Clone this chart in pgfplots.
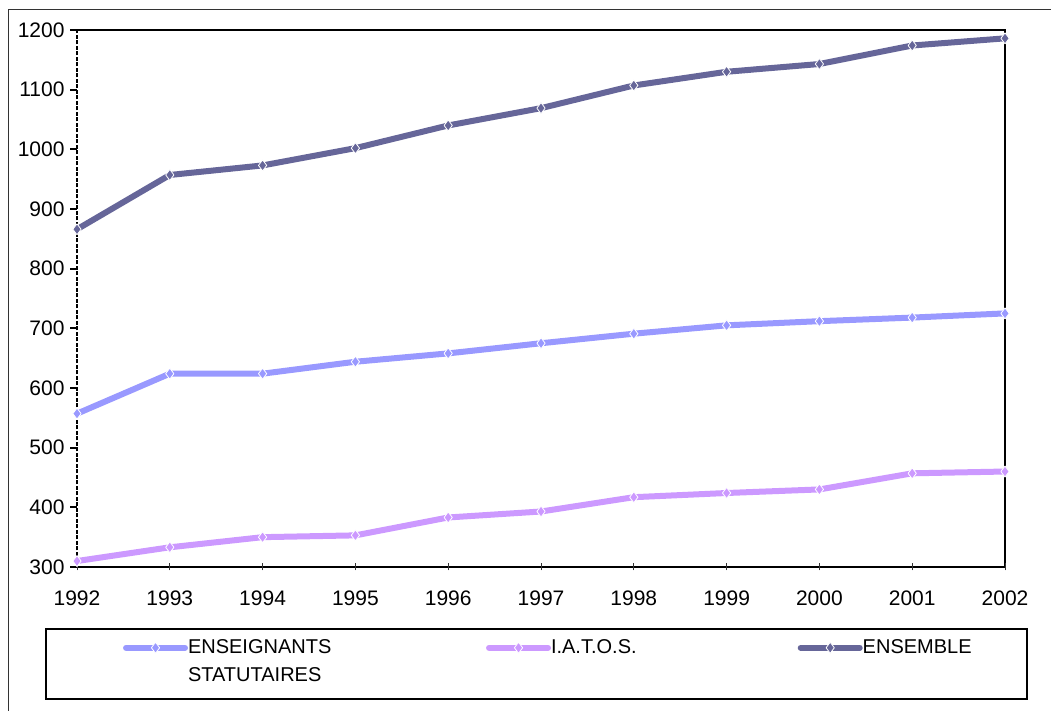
\documentclass[border=0pt]{standalone}
\usepackage{fontspec}
\setmainfont{Liberation Sans}
\usepackage{pgfplots}
\pgfplotsset{compat=1.18}
\definecolor{cEns}{HTML}{9999FF}
\definecolor{cIat}{HTML}{CC99FF}
\definecolor{cTot}{HTML}{666699}
\begin{document}
\begin{tikzpicture}[x=1pt,y=1pt]
\useasboundingbox (0,0) rectangle (1051,711);
% outer frame (left and top visible)
\draw[line width=1pt, black!80] (8.5,0) -- (8.5,701) -- (1051,701);
% legend box
\draw[line width=1.2pt, black] (46,12) rectangle (1027,82);
% plot area frame
\draw[line width=2pt, black] (77,681) -- (1005,681) -- (1005,144) -- (77,144);
\draw[line width=2.5pt, black, dash pattern=on 4pt off 1.5pt] (77,144) -- (77,681);
\begin{axis}[
  at={(77pt,144pt)}, anchor=south west,
  scale only axis, width=928pt, height=537pt,
  xmin=1992, xmax=2002, ymin=300, ymax=1200,
  xtick={1992,1993,...,2002},
  ytick={300,400,...,1200},
  axis line style={draw=none},
  tick pos=left, tick align=outside, major tick length=7pt,
  xtick style={black!80, line width=1pt, yshift=3.5pt},
  ytick style={black, line width=2pt},
  /pgf/number format/assume math mode=true,
  /pgf/number format/1000 sep={},
  xticklabel style={font=\fontsize{21}{25}\selectfont, yshift=-13pt},
  yticklabel style={font=\fontsize{21}{25}\selectfont, xshift=-2pt},
  clip=false,
  legend columns=3,
  legend cell align=left,
  legend style={at={(axis description cs:0.0496,-0.136)}, anchor=north west,
    draw=none, fill=none, inner sep=0pt, outer sep=0pt,
    font=\fontsize{20}{27.5}\selectfont,
    nodes={inner sep=0pt},
    /tikz/every even column/.append style={column sep=4pt}},
  legend image code/.code={\draw[#1, line cap=round, mark repeat=2, mark phase=2] plot coordinates {(0pt,0pt) (29.5pt,0pt) (59pt,0pt)};},
  every axis plot/.append style={line width=6pt, line join=round, mark=diamond*, mark size=5.5pt},
]
\addplot[cEns, mark options={fill=cEns, draw=white, line width=0.8pt}] coordinates {
(1992,557) (1993,624) (1994,624) (1995,644) (1996,658) (1997,675) (1998,691) (1999,705) (2000,712) (2001,718) (2002,725)};
\addlegendentry{\parbox[t]{294pt}{ENSEIGNANTS\\STATUTAIRES}}
\addplot[cIat, mark options={fill=cIat, draw=white, line width=0.8pt}] coordinates {
(1992,310) (1993,333) (1994,350) (1995,353) (1996,383) (1997,393) (1998,417) (1999,424) (2000,430) (2001,457) (2002,460)};
\addlegendentry{\makebox[242.7pt][l]{I.A.T.O.S.}}
\addplot[cTot, mark options={fill=cTot, draw=white, line width=0.8pt}] coordinates {
(1992,866) (1993,957) (1994,973) (1995,1002) (1996,1040) (1997,1069) (1998,1107) (1999,1130) (2000,1143) (2001,1174) (2002,1186)};
\addlegendentry{\makebox[120pt][l]{ENSEMBLE}}
\end{axis}
\end{tikzpicture}
\end{document}
